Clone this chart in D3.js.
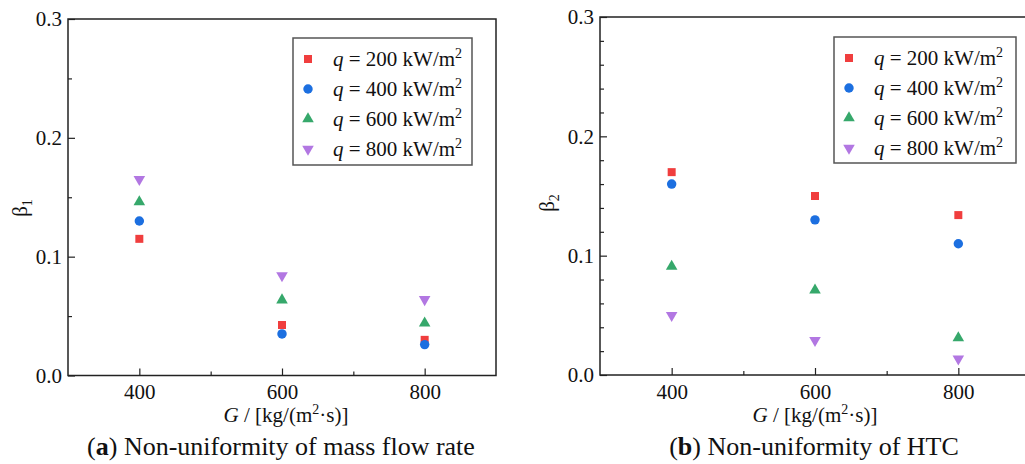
<!DOCTYPE html>
<html>
<head>
<meta charset="utf-8">
<script src="https://cdn.jsdelivr.net/npm/d3@7"></script>
<style>
  body { margin: 0; background: #fff; }
  svg { display: block; font-family: "Liberation Serif", "Times New Roman", serif; }
</style>
</head>
<body>
<div id="chart"></div>
<script>
// x values (mass flux G)
const gValues = [400, 600, 800];
const heatFluxes = [200, 400, 600, 800];

// panel (a): beta1, one array per heat flux
const beta1Q200 = [0.115, 0.0425, 0.030];
const beta1Q400 = [0.130, 0.035, 0.026];
const beta1Q600 = [0.146, 0.0635, 0.044];
const beta1Q800 = [0.165, 0.084, 0.064];

// panel (b): beta2
const beta2Q200 = [0.170, 0.150, 0.134];
const beta2Q400 = [0.160, 0.130, 0.110];
const beta2Q600 = [0.091, 0.071, 0.031];
const beta2Q800 = [0.050, 0.029, 0.0135];

const yTicks = [0, 0.1, 0.2, 0.3];
const xTicks = [400, 600, 800];

const colors = ['#f03e3e', '#1c6fe0', '#36a86b', '#b277e2'];
const symbols = [d3.symbolSquare, d3.symbolCircle, d3.symbolTriangle, d3.symbolTriangle];
const symSizes = [64, 70, 58, 58];

const W = 1025, H = 464;
const svg = d3.select('#chart').append('svg')
    .attr('width', W)
    .attr('height', H);

svg.append('rect').attr('width', W).attr('height', H).attr('fill', '#fff');

function marker(g, i, x, y) {
    g.append('path')
        .attr('d', d3.symbol().type(symbols[i]).size(symSizes[i])())
        .attr('fill', colors[i])
        .attr('transform', `translate(${x},${y})` + (i === 3 ? ' rotate(180)' : ''));
}

function drawPanel(p) {
    const x = d3.scaleLinear().domain([300, 900]).range([p.left, p.right]);
    const y = d3.scaleLinear().domain([0, 0.3]).range([p.bottom, p.top]);
    const g = svg.append('g');

    // minor ticks
    g.append('g')
        .attr('transform', `translate(0,${p.bottom})`)
        .call(d3.axisBottom(x).tickValues([500, 700]).tickSize(-4).tickFormat(''))
        .call(a => a.select('.domain').remove());
    g.append('g')
        .attr('transform', `translate(${p.left},0)`)
        .call(d3.axisLeft(y).tickValues(p.yMinor).tickSize(-4).tickFormat(''))
        .call(a => a.select('.domain').remove());

    // major ticks
    g.append('g')
        .attr('transform', `translate(0,${p.bottom})`)
        .call(d3.axisBottom(x).tickValues(xTicks).tickSize(-7).tickPadding(9).tickFormat(d3.format('d')))
        .call(a => a.select('.domain').remove())
        .call(a => a.selectAll('text').attr('font-size', 21).attr('fill', '#111'));
    g.append('g')
        .attr('transform', `translate(${p.left},0)`)
        .call(d3.axisLeft(y).tickValues(yTicks).tickSize(-7).tickPadding(6).tickFormat(d3.format('.1f')))
        .call(a => a.select('.domain').remove())
        .call(a => a.selectAll('text').attr('font-size', 21).attr('fill', '#111'));

    g.selectAll('.tick line').attr('stroke', '#222').attr('stroke-width', 1.2);
    g.selectAll('text').attr('font-family', '"Liberation Serif", serif');

    // frame
    g.append('rect')
        .attr('x', p.left).attr('y', p.top)
        .attr('width', p.right - p.left).attr('height', p.bottom - p.top)
        .attr('fill', 'none').attr('stroke', '#222').attr('stroke-width', 1.5);

    // points
    p.series.forEach((vals, i) => {
        vals.forEach((v, j) => marker(g, i, x(gValues[j]), y(v)));
    });

    // legend
    const lg = g.append('g');
    lg.append('rect')
        .attr('x', p.legend.x).attr('y', p.legend.y)
        .attr('width', p.legend.w).attr('height', p.legend.h)
        .attr('fill', '#fff').attr('stroke', '#555').attr('stroke-width', 1.5);
    heatFluxes.forEach((q, i) => {
        const cy = p.legend.y + 21 + i * 30;
        marker(lg, i, p.legend.x + 15, cy);
        const t = lg.append('text')
            .attr('x', p.legend.x + 40).attr('y', cy + 7)
            .attr('font-size', 21).attr('fill', '#111');
        t.append('tspan').attr('font-style', 'italic').text('q');
        t.append('tspan').text(` = ${q} kW/m`);
        t.append('tspan').attr('font-size', 14).attr('dy', -8).text('2');
    });

    // y label
    const yl = g.append('text')
        .attr('transform', `translate(${p.yLabelX},${p.yLabelY}) rotate(-90)`)
        .attr('text-anchor', 'middle').attr('font-size', 21).attr('fill', '#111');
    yl.append('tspan').text('β');
    yl.append('tspan').attr('font-size', 14).attr('dy', 5).text(p.sub);

    // x label
    const xl = g.append('text')
        .attr('x', p.xLabelCx).attr('y', 421.5)
        .attr('text-anchor', 'middle').attr('font-size', 21).attr('fill', '#111');
    xl.append('tspan').attr('font-style', 'italic').text('G');
    xl.append('tspan').text(' / [kg/(m');
    xl.append('tspan').attr('font-size', 14).attr('dy', -8).text('2');
    xl.append('tspan').attr('dy', 8).text('·s)]');

    // caption
    const cap = g.append('text')
        .attr('x', p.captionCx).attr('y', 455)
        .attr('text-anchor', 'middle').attr('font-size', 26).attr('fill', '#111');
    cap.append('tspan').text('(');
    cap.append('tspan').attr('font-weight', 'bold').text(p.letter);
    cap.append('tspan').text(') ' + p.caption);
}

drawPanel({
    left: 68, right: 496, top: 19, bottom: 375.5,
    yMinor: [0.05, 0.15, 0.25],
    series: [beta1Q200, beta1Q400, beta1Q600, beta1Q800],
    legend: { x: 293, y: 38, w: 179, h: 127 },
    yLabelX: 27, yLabelY: 208, sub: '1',
    xLabelCx: 286, captionCx: 281,
    letter: 'a', caption: 'Non-uniformity of mass flow rate'
});

drawPanel({
    left: 600, right: 1030, top: 17, bottom: 375,
    yMinor: [0.02, 0.04, 0.06, 0.08, 0.12, 0.14, 0.16, 0.18, 0.22, 0.24, 0.26, 0.28],
    series: [beta2Q200, beta2Q400, beta2Q600, beta2Q800],
    legend: { x: 834, y: 37, w: 182, h: 126 },
    yLabelX: 554, yLabelY: 203, sub: '2',
    xLabelCx: 815, captionCx: 814,
    letter: 'b', caption: 'Non-uniformity of HTC'
});
</script>
</body>
</html>
